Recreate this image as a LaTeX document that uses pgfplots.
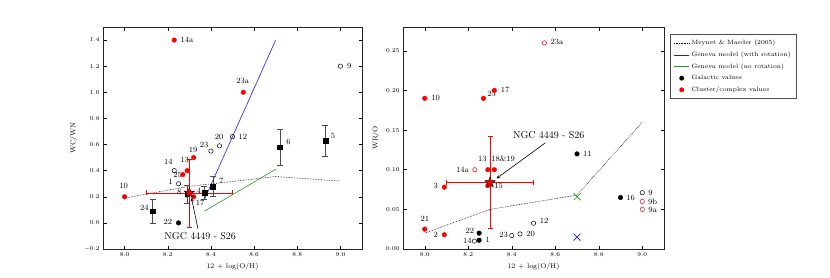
\documentclass[border=0pt]{standalone}
\usepackage{pgfplots}
\pgfplotsset{compat=1.18}
\definecolor{mgreen}{rgb}{0.15,0.6,0.15}
\definecolor{mblue}{rgb}{0.1,0.1,1}
\pgfdeclareplotmark{fstar}{%
  \pgfpathmoveto{\pgfpointpolar{90}{\pgfplotmarksize}}%
  \pgfpathlineto{\pgfpointpolar{126}{0.4\pgfplotmarksize}}%
  \pgfpathlineto{\pgfpointpolar{162}{\pgfplotmarksize}}%
  \pgfpathlineto{\pgfpointpolar{198}{0.4\pgfplotmarksize}}%
  \pgfpathlineto{\pgfpointpolar{234}{\pgfplotmarksize}}%
  \pgfpathlineto{\pgfpointpolar{270}{0.4\pgfplotmarksize}}%
  \pgfpathlineto{\pgfpointpolar{306}{\pgfplotmarksize}}%
  \pgfpathlineto{\pgfpointpolar{342}{0.4\pgfplotmarksize}}%
  \pgfpathlineto{\pgfpointpolar{18}{\pgfplotmarksize}}%
  \pgfpathlineto{\pgfpointpolar{54}{0.4\pgfplotmarksize}}%
  \pgfpathclose
  \pgfusepathqfillstroke}
\newcommand{\lab}[2]{\node[font=\fontsize{8}{9}\selectfont, inner sep=0pt] at (axis cs:#1) {#2};}
\pgfplotsset{
  mystyle/.style={
    scale only axis, height=222pt,
    xmin=7.9, xmax=9.1,
    xtick={8.0,8.2,8.4,8.6,8.8,9.0},
    tick align=inside,
    major tick length=3.5pt,
    tick style={line width=0.5pt, black},
    tick label style={font=\fontsize{6.5}{7}\selectfont},
    label style={font=\fontsize{7}{8}\selectfont},
    axis line style={line width=0.9pt, black!85},
    xlabel={12 + log(O/H)},
    clip=false,
    xticklabel style={/pgf/number format/.cd, fixed, fixed zerofill, precision=1},
  },
  galsq/.style={only marks, mark=square*, mark size=2.4pt, black,
    error bars/.cd, y dir=both, y explicit,
    error bar style={black!70, line width=0.7pt},
    error mark options={rotate=90, mark size=3pt, black!70, line width=0.7pt}},
  fdot/.style={only marks, mark=*, mark size=2.3pt},
  odot/.style={only marks, mark=o, mark size=2.2pt, mark options={line width=0.5pt}},
  starerr/.style={only marks, mark=fstar, mark size=5.5pt,
    mark options={fill=red, draw=black, line width=0.4pt},
    error bars/.cd, x dir=both, x explicit, y dir=both, y explicit,
    error bar style={red, line width=0.6pt},
    error mark options={rotate=90, mark size=2.5pt, red, line width=0.6pt}},
}
\begin{document}
\begin{tikzpicture}
\path[use as bounding box] (0pt,0pt) rectangle (830pt,277pt);
% ---------------- left panel ----------------
\begin{axis}[mystyle, at={(103pt,28pt)}, anchor=south west, width=259pt,
  ymin=-0.2, ymax=1.5,
  ytick={-0.2,0,0.2,0.4,0.6,0.8,1.0,1.2,1.4},
  yticklabel style={/pgf/number format/.cd, fixed, fixed zerofill, precision=1},
  ylabel={WC/WN}]
\addplot[densely dotted, black, line width=0.6pt] coordinates {(8.0,0.19)(8.3,0.28)(8.7,0.355)(9.0,0.32)};
\addplot[mblue, line width=0.6pt] coordinates {(8.37,0.18)(8.7,1.4)};
\addplot[mgreen, line width=0.6pt] coordinates {(8.37,0.09)(8.7,0.41)};
\addplot[galsq] coordinates {
(8.13,0.09) +- (0,0.09)
(8.29,0.22) +- (0,0.07)
(8.37,0.23) +- (0,0.05)
(8.41,0.28) +- (0,0.075)
(8.72,0.58) +- (0,0.14)
(8.93,0.63) +- (0,0.12)
};
\addplot[fdot, black] coordinates {(8.25,0.0)};
\addplot[odot, black] coordinates {(8.25,0.30)(8.23,0.40)(8.40,0.55)(8.44,0.59)(8.50,0.66)(9.0,1.2)};
\addplot[fdot, red] coordinates {(8.0,0.2)(8.27,0.37)(8.29,0.40)(8.32,0.50)(8.32,0.20)(8.23,1.40)(8.55,1.0)};
\addplot[starerr] coordinates {(8.3,0.23) +- (0.2,0.26)};
\lab{8.289,1.40}{14a}
\lab{8.548,1.087}{23a}
\lab{9.041,1.20}{9}
\lab{8.438,0.659}{20}
\lab{8.548,0.659}{12}
\lab{8.369,0.60}{23}
\lab{8.318,0.556}{19}
\lab{8.278,0.485}{13}
\lab{8.203,0.47}{14}
\lab{8.246,0.367}{25}
\lab{8.213,0.315}{1}
\lab{8.253,0.238}{8}
\lab{8.344,0.246}{4}
\lab{8.448,0.318}{7}
\lab{8.35,0.152}{17}
\lab{7.995,0.28}{10}
\lab{8.092,0.113}{24}
\lab{8.20,0.005}{22}
\lab{8.759,0.62}{6}
\lab{8.966,0.664}{5}
\node[font=\fontsize{10}{12}\selectfont, inner sep=0pt] at (axis cs:8.35,-0.10) {NGC 4449 - S26};
\draw[-stealth, line width=0.6pt] (axis cs:8.34,-0.045) -- (axis cs:8.31,0.19);
\end{axis}
% ---------------- right panel ----------------
\begin{axis}[mystyle, at={(403pt,28pt)}, anchor=south west, width=261pt,
  ymin=0, ymax=0.28,
  ytick={0,0.05,0.10,0.15,0.20,0.25},
  yticklabel style={/pgf/number format/.cd, fixed, fixed zerofill, precision=2},
  ylabel={WR/O},
  legend image code/.code={\draw[#1] (0pt,0pt) -- (15pt,0pt);},
  legend style={at={(1.023,0.968)}, anchor=north west,
    font=\fontsize{6.2}{7}\selectfont, draw=black!70, line width=0.8pt,
    cells={anchor=west}, row sep=1.6pt, inner sep=3.5pt}]
\addlegendimage{draw=black, densely dotted, line width=0.6pt}
\addlegendentry{Meynet \& Maeder (2005)}
\addlegendimage{draw=mblue, line width=0.6pt}
\addlegendentry{Geneva model (with rotation)}
\addlegendimage{draw=mgreen, line width=0.6pt}
\addlegendentry{Geneva model (no rotation)}
\addlegendimage{legend image code/.code={\fill[black] (7.5pt,0pt) circle (2pt);}}
\addlegendentry{Galactic values}
\addlegendimage{legend image code/.code={\fill[red] (7.5pt,0pt) circle (2pt);}}
\addlegendentry{Cluster/complex values}
\addplot[forget plot, densely dotted, black, line width=0.6pt] coordinates {(8.0,0.02)(8.3,0.05)(8.7,0.068)(9.0,0.16)};
\addplot[forget plot, only marks, mark=x, mark size=5pt, mgreen, mark options={line width=0.6pt}] coordinates {(8.7,0.066)};
\addplot[forget plot, only marks, mark=x, mark size=5pt, mblue, mark options={line width=0.6pt}] coordinates {(8.7,0.015)};
\addplot[forget plot, fdot, black] coordinates {(8.25,0.02)(8.25,0.011)(8.70,0.12)(8.90,0.065)};
\addplot[forget plot, odot, black] coordinates {(8.228,0.010)(8.40,0.017)(8.438,0.019)(8.50,0.0325)(9.0,0.071)};
\addplot[forget plot, fdot, red] coordinates {(8.0,0.19)(8.27,0.19)(8.32,0.20)(8.29,0.10)(8.32,0.10)(8.29,0.080)(8.09,0.078)(8.0,0.025)(8.09,0.018)};
\addplot[forget plot, odot, red] coordinates {(8.55,0.26)(8.23,0.10)(9.0,0.060)(9.0,0.050)};
\addplot[forget plot, starerr] coordinates {(8.3,0.084) +- (0.2,0.058)};
\lab{8.608,0.261}{23a}
\lab{8.05,0.19}{10}
\lab{8.307,0.195}{25}
\lab{8.37,0.201}{17}
\lab{8.265,0.1135}{13}
\lab{8.36,0.1135}{18\&19}
\lab{8.173,0.10}{14a}
\lab{8.34,0.080}{15}
\lab{8.05,0.079}{3}
\lab{8.0,0.038}{21}
\lab{8.05,0.018}{2}
\lab{8.207,0.023}{22}
\lab{8.29,0.011}{1}
\lab{8.196,0.0105}{14}
\lab{8.363,0.0173}{23}
\lab{8.487,0.0194}{20}
\lab{8.549,0.0354}{12}
\lab{8.748,0.12}{11}
\lab{8.946,0.065}{16}
\lab{9.038,0.071}{9}
\lab{9.048,0.060}{9b}
\lab{9.048,0.049}{9a}
\node[font=\fontsize{10}{12}\selectfont, inner sep=0pt] at (axis cs:8.57,0.1435) {NGC 4449 - S26};
\draw[-stealth, line width=0.6pt] (axis cs:8.555,0.134) -- (axis cs:8.33,0.089);
\end{axis}
\end{tikzpicture}
\end{document}
